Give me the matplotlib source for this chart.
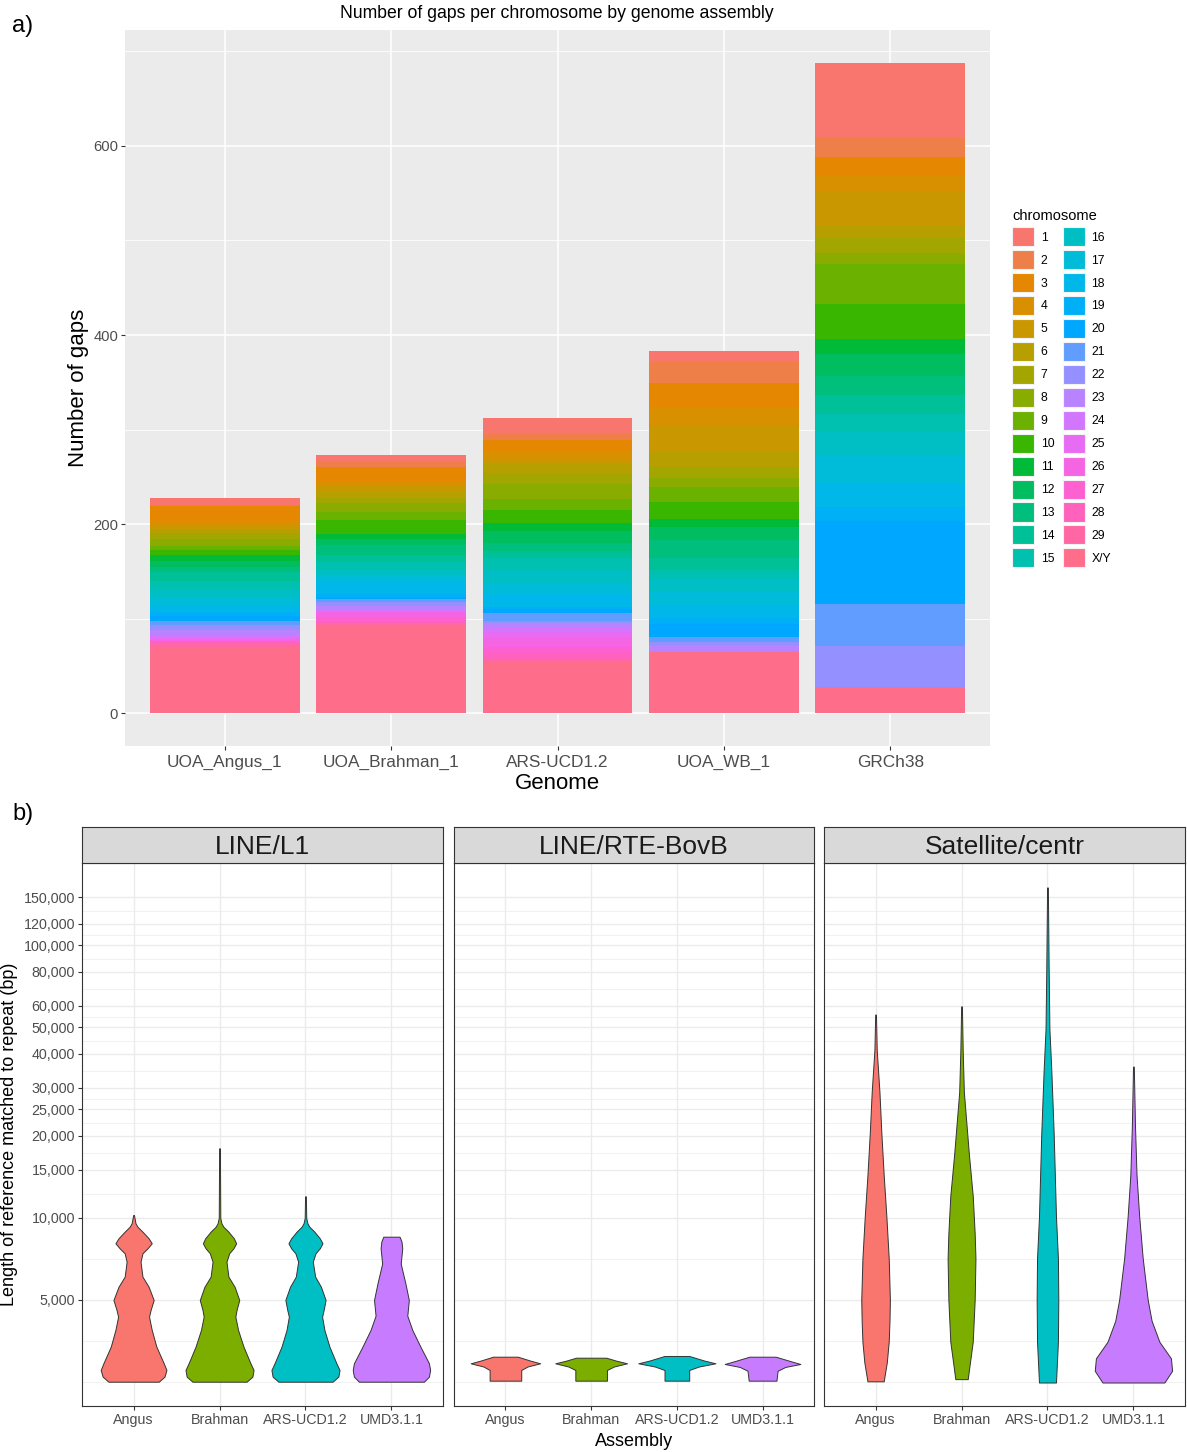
import numpy as np
import matplotlib.pyplot as plt
from matplotlib.patches import Patch
from matplotlib.ticker import FixedLocator, NullFormatter

plt.rcParams['font.family'] = ['Liberation Sans', 'DejaVu Sans']

################################################################################
# Datos panel a)

genomes = ["UOA_Angus_1", "UOA_Brahman_1", "ARS-UCD1.2", "UOA_WB_1", "GRCh38"]
chromosomes = [str(i) for i in range(1, 30)] + ["X/Y"]

gaps_angus = [8, 1, 16, 4, 4, 4, 7, 7, 4, 5, 7, 6, 6, 9, 8,
              9, 9, 7, 4, 5, 5, 5, 6, 2, 1, 2, 1, 3, 3, 70]
gaps_brahman = [6, 6, 15, 6, 6, 6, 6, 9, 9, 14, 6, 6, 10, 8, 8,
                6, 6, 14, 3, 2, 3, 4, 5, 1, 1, 5, 4, 3, 2, 93]
gaps_ars = [17, 6, 12, 9, 4, 10, 11, 16, 12, 14, 8, 13, 8, 8, 12,
            14, 12, 14, 2, 4, 8, 2, 6, 4, 6, 10, 7, 5, 4, 54]
gaps_wb = [11, 23, 25, 19, 28, 17, 11, 10, 16, 17, 9, 14, 19, 12, 9,
           14, 14, 14, 6, 14, 5, 4, 7, 0, 0, 0, 0, 0, 0, 65]
gaps_grch38 = [80, 20, 20, 16, 37, 12, 16, 12, 42, 37, 16, 23, 20, 20, 19,
               25, 29, 26, 15, 87, 45, 43, 0, 0, 0, 0, 0, 0, 0, 28]

################################################################################
# Datos panel b)  (perfil de cada violin: longitud en bp, anchura relativa)

repeats = ["LINE/L1", "LINE/RTE-BovB", "Satellite/centr"]
assemblies = ["Angus", "Brahman", "ARS-UCD1.2", "UMD3.1.1"]
length_breaks = [5000, 10000, 15000, 20000, 25000, 30000, 40000, 50000,
                 60000, 80000, 100000, 120000, 150000]

l1_len = [2507, 2617, 2768, 2929, 3370, 3880, 4343, 4594, 5000, 5590,
          6090, 6910, 7417, 7737, 8072, 8420, 8905, 9286, 9560]
l1_angus_len = l1_len + [10250]
l1_angus_w = [0.65, 0.80, 0.85, 0.78, 0.59, 0.47, 0.40, 0.44, 0.52, 0.39,
              0.23, 0.18, 0.23, 0.36, 0.47, 0.39, 0.23, 0.10, 0.05, 0.01]
l1_brahman_len = l1_len + [10000, 18000]
l1_brahman_w = [0.70, 0.85, 0.88, 0.80, 0.62, 0.48, 0.41, 0.44, 0.51, 0.39,
                0.23, 0.18, 0.25, 0.36, 0.43, 0.37, 0.23, 0.10, 0.05, 0.02, 0.01]
l1_ars_len = l1_len + [10000, 12000]
l1_ars_w = [0.70, 0.85, 0.88, 0.80, 0.62, 0.49, 0.43, 0.47, 0.52, 0.40,
            0.25, 0.19, 0.26, 0.37, 0.44, 0.37, 0.23, 0.10, 0.05, 0.02, 0.01]
l1_umd_len = [2507, 2617, 2768, 2929, 3370, 3880, 4380, 5000, 5760, 6800,
              7737, 8200, 8535]
l1_umd_w = [0.84, 0.97, 1.00, 0.97, 0.75, 0.54, 0.41, 0.45, 0.36, 0.24,
            0.28, 0.26, 0.21]

rte_angus_len = [2529, 2768, 2850, 2929, 2995, 3097]
rte_angus_w = [0.41, 0.41, 0.57, 0.90, 0.65, 0.32]
rte_brahman_len = [2529, 2768, 2850, 2929, 2995, 3071]
rte_brahman_w = [0.41, 0.41, 0.59, 0.93, 0.65, 0.39]
rte_ars_len = [2529, 2768, 2850, 2929, 2995, 3116]
rte_ars_w = [0.32, 0.32, 0.57, 1.00, 0.72, 0.32]
rte_umd_len = [2529, 2750, 2840, 2912, 2990, 3097]
rte_umd_w = [0.36, 0.39, 0.59, 0.98, 0.70, 0.34]

sat_angus_len = [2515, 2949, 3516, 4196, 5000, 7110, 10100, 14370, 20450,
                 29000, 41300, 55700]
sat_angus_w = [0.21, 0.29, 0.34, 0.36, 0.37, 0.34, 0.28, 0.21, 0.15,
               0.10, 0.03, 0.01]
sat_brahman_len = [2562, 3516, 5000, 7110, 8780, 12050, 17160, 29000,
                   41300, 59700]
sat_brahman_w = [0.16, 0.29, 0.34, 0.36, 0.34, 0.29, 0.19, 0.06, 0.03, 0.01]
sat_ars_len = [2490, 3516, 5000, 7110, 10100, 20450, 34650, 49300, 83500,
               163000]
sat_ars_w = [0.22, 0.27, 0.28, 0.27, 0.22, 0.16, 0.10, 0.05, 0.03, 0.01]
sat_umd_len = [2490, 2750, 3055, 3516, 4196, 5000, 7110, 10100, 14370,
               21900, 35900]
sat_umd_w = [0.80, 1.00, 0.97, 0.67, 0.47, 0.37, 0.24, 0.15, 0.08, 0.04, 0.01]

violins = [
    [(l1_angus_len, l1_angus_w), (l1_brahman_len, l1_brahman_w),
     (l1_ars_len, l1_ars_w), (l1_umd_len, l1_umd_w)],
    [(rte_angus_len, rte_angus_w), (rte_brahman_len, rte_brahman_w),
     (rte_ars_len, rte_ars_w), (rte_umd_len, rte_umd_w)],
    [(sat_angus_len, sat_angus_w), (sat_brahman_len, sat_brahman_w),
     (sat_ars_len, sat_ars_w), (sat_umd_len, sat_umd_w)],
]

################################################################################
# Funciones


def hue_pal(n):
    "Paleta hue de ggplot (hcl, c=100, l=65)"
    hues = np.linspace(15, 375, n + 1)[:-1]
    xn, yn, zn = 95.047, 100.0, 108.883
    un = 4 * xn / (xn + 15 * yn + 3 * zn)
    vn = 9 * yn / (xn + 15 * yn + 3 * zn)
    L, C = 65.0, 100.0
    m = np.array([[3.240479, -1.537150, -0.498535],
                  [-0.969256, 1.875992, 0.041556],
                  [0.055648, -0.204043, 1.057311]])
    cols = []
    for h in hues:
        u = C * np.cos(np.deg2rad(h))
        v = C * np.sin(np.deg2rad(h))
        Y = yn * ((L + 16) / 116) ** 3
        up = u / (13 * L) + un
        vp = v / (13 * L) + vn
        X = 9 * Y * up / (4 * vp)
        Z = Y * (12 - 3 * up - 20 * vp) / (4 * vp)
        rgb = m @ (np.array([X, Y, Z]) / 100)
        rgb = np.clip(rgb, 0, None)
        rgb = np.where(rgb <= 0.0031308, 12.92 * rgb,
                       1.055 * rgb ** (1 / 2.4) - 0.055)
        cols.append(tuple(np.clip(rgb, 0, 1)))
    return cols


W, H = 1187, 1452


def box(x0, y0, x1, y1):
    "Caja en pixeles (origen arriba a la izquierda) -> fracciones de figura"
    return [x0 / W, 1 - y1 / H, (x1 - x0) / W, (y1 - y0) / H]


fig = plt.figure(figsize=(W / 100, H / 100), dpi=100)

################################################################################
# Panel a)

chrom_cols = hue_pal(len(chromosomes))
counts = np.array([gaps_angus, gaps_brahman, gaps_ars, gaps_wb, gaps_grch38])
xpos = np.arange(1, len(genomes) + 1)

ax = fig.add_axes(box(125, 30, 990, 746))
ax.set_facecolor('#EBEBEB')
bottom = np.zeros(len(genomes))
for k in reversed(range(len(chromosomes))):
    ax.bar(xpos, counts[:, k], bottom=bottom, width=0.9,
           color=chrom_cols[k], linewidth=0)
    bottom += counts[:, k]

top = counts.sum(axis=1).max()
ax.set_xlim(0.4, len(genomes) + 0.6)
ax.set_ylim(-0.05 * top, 1.05 * top)
ax.set_xticks(xpos)
ax.set_xticklabels(genomes, fontsize=12.4, color='#4D4D4D')
ax.set_yticks([0, 200, 400, 600])
ax.yaxis.set_minor_locator(FixedLocator([100, 300, 500, 700]))
ax.tick_params(axis='y', labelsize=10.6, labelcolor='#4D4D4D')
ax.tick_params(which='major', length=2.75, width=0.8, color='#333333', pad=2.2)
ax.tick_params(axis='x', pad=3.5)
ax.tick_params(which='minor', length=0)
ax.grid(which='major', color='white', linewidth=1.1)
ax.grid(which='minor', axis='y', color='white', linewidth=0.55)
ax.set_axisbelow(True)
for s in ax.spines.values():
    s.set_visible(False)
ax.set_ylabel("Number of gaps", fontsize=16, labelpad=3)
ax.set_xlabel("Genome", fontsize=16, labelpad=2)

fig.text(557 / W, 1 - 13 / H, "Number of gaps per chromosome by genome assembly",
         ha='center', va='center', fontsize=12.7)
fig.text(12 / W, 1 - 26 / H, "a)", ha='left', va='center', fontsize=17)

handles = [Patch(facecolor=c, edgecolor='#F2F2F2', linewidth=0.8)
           for c in chrom_cols]
leg = fig.legend(handles, chromosomes, ncol=2, loc='upper left',
                 bbox_to_anchor=(1004 / W, 1 - 201 / H), frameon=False,
                 title="chromosome", title_fontsize=10.5, fontsize=8.7,
                 handlelength=1.8, handleheight=2.05, labelspacing=0.32,
                 handletextpad=0.55, columnspacing=0.7, borderpad=0.2,
                 alignment='left')

################################################################################
# Panel b)

vcols = hue_pal(len(assemblies))
panel_x = [(82, 443), (454, 814), (824, 1185)]
ymin, ymax = 2042, 201000

logb = np.log10(length_breaks)
ext = np.concatenate([[logb[0] - (logb[1] - logb[0])], logb])
minor = np.concatenate([ext, (ext[:-1] + ext[1:]) / 2])
minor = 10 ** minor

xa = np.arange(1, len(assemblies) + 1)
for i, name in enumerate(repeats):
    x0, x1 = panel_x[i]
    ax = fig.add_axes(box(x0, 862.7, x1, 1406))
    ax.set_yscale('log')
    ax.set_xlim(0.4, len(assemblies) + 0.6)
    ax.set_ylim(ymin, ymax)
    ax.set_yticks(length_breaks)
    ax.yaxis.set_minor_locator(FixedLocator(minor))
    ax.yaxis.set_minor_formatter(NullFormatter())
    ax.set_xticks(xa)
    ax.set_xticklabels(assemblies)
    ax.tick_params(which='major', labelsize=10.3, labelcolor='#4D4D4D',
                   length=2.75, width=0.8, color='#333333', pad=2.2)
    ax.tick_params(which='minor', length=0)
    if i == 0:
        ax.set_yticklabels(["{:,}".format(b) for b in length_breaks])
    else:
        ax.set_yticklabels([])
        ax.tick_params(axis='y', which='both', length=0)
    ax.grid(which='major', color='#EBEBEB', linewidth=1.0)
    ax.grid(which='minor', axis='y', color='#EBEBEB', linewidth=0.5)
    ax.set_axisbelow(True)
    for s in ax.spines.values():
        s.set_color('#333333')
        s.set_linewidth(0.8)

    for j, (lens, wid) in enumerate(violins[i]):
        hw = np.array(wid) * 0.45
        ax.fill_betweenx(lens, xa[j] - hw, xa[j] + hw, facecolor=vcols[j],
                         edgecolor='#333333', linewidth=0.7, zorder=3)

    sx = fig.add_axes(box(x0, 827, x1, 862.7))
    sx.set_facecolor('#D9D9D9')
    sx.set_xticks([])
    sx.set_yticks([])
    for s in sx.spines.values():
        s.set_color('#333333')
        s.set_linewidth(0.8)
    sx.text(0.5, 0.45, name, ha='center', va='center', fontsize=19,
            color='#1A1A1A', transform=sx.transAxes)

fig.text(634 / W, 1 - 1441 / H, "Assembly", ha='center', va='center',
         fontsize=13)
fig.text(10 / W, 1 - 1134 / H, "Length of reference matched to repeat (bp)",
         ha='center', va='center', rotation=90, fontsize=13)
fig.text(12 / W, 1 - 814 / H, "b)", ha='left', va='center', fontsize=17)

plt.savefig("out.png", dpi=100)
